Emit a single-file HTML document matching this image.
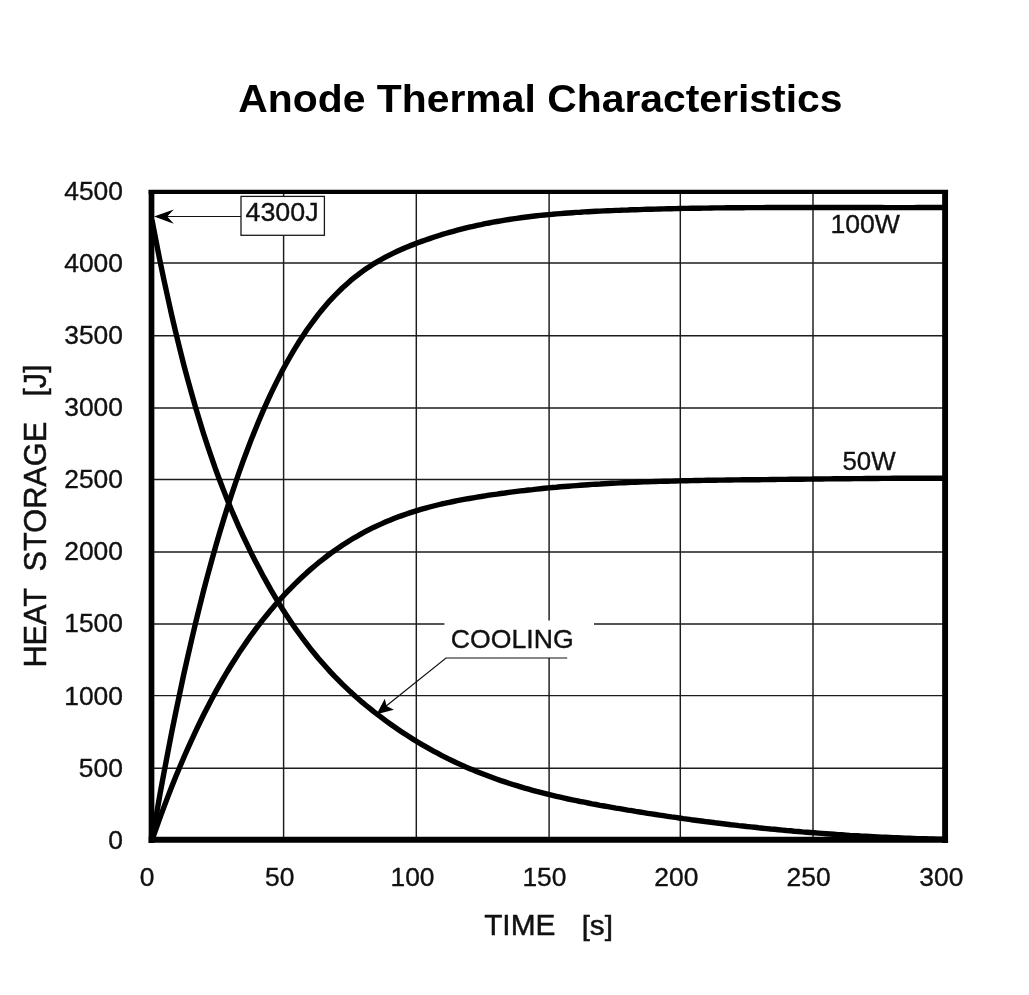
<!DOCTYPE html>
<html><head><meta charset="utf-8"><title>Anode Thermal Characteristics</title>
<style>html,body{margin:0;padding:0;background:#fff}svg{display:block}text{font-family:"Liberation Sans",sans-serif;fill:#111}</style></head><body>
<svg width="1029" height="995" viewBox="0 0 1029 995">
<rect width="1029" height="995" fill="#fff"/>
<path d="M283.6 191.2 V840.2 M416.3 191.2 V840.2 M549.1 191.2 V840.2 M680.3 191.2 V840.2 M813.0 191.2 V840.2 M152.0 768.2 H945.0 M152.0 695.6 H945.0 M152.0 624.0 H945.0 M152.0 551.9 H945.0 M152.0 479.4 H945.0 M152.0 407.9 H945.0 M152.0 335.7 H945.0 M152.0 263.0 H945.0" stroke="#1c1c1c" stroke-width="1.45" fill="none"/>
<rect x="444.4" y="620.5" width="149.6" height="37.5" fill="#fff"/>
<path d="M152.0 840.2 L156.0 817.1 L159.9 794.8 L163.9 773.1 L167.9 752.1 L171.8 731.8 L175.8 712.1 L179.8 693.1 L183.7 674.6 L187.7 656.8 L191.7 639.5 L195.6 622.8 L199.6 606.6 L203.5 591.0 L207.5 575.9 L211.5 561.3 L215.4 547.2 L219.4 533.6 L223.4 520.4 L227.3 507.7 L231.3 495.4 L235.3 483.5 L239.2 472.0 L243.2 460.9 L247.2 450.2 L251.1 439.9 L255.1 429.9 L259.1 420.3 L263.0 411.1 L267.0 402.2 L270.9 393.6 L274.9 385.3 L278.9 377.4 L282.8 369.8 L286.8 362.5 L290.8 355.5 L294.7 348.8 L298.7 342.3 L302.7 336.2 L306.6 330.3 L310.6 324.7 L314.6 319.3 L318.5 314.1 L322.5 309.2 L326.5 304.6 L330.4 300.1 L334.4 295.9 L338.4 291.9 L342.3 288.0 L346.3 284.4 L350.2 280.9 L354.2 277.7 L358.2 274.6 L362.1 271.6 L366.1 268.8 L370.1 266.2 L374.0 263.6 L378.0 261.3 L382.0 259.0 L385.9 256.8 L389.9 254.8 L393.9 252.9 L397.8 251.0 L401.8 249.2 L405.8 247.5 L409.7 245.9 L413.7 244.4 L417.7 242.8 L421.6 241.4 L425.6 240.0 L429.6 238.6 L433.5 237.3 L437.5 236.0 L441.4 234.7 L445.4 233.5 L449.4 232.4 L453.3 231.3 L457.3 230.2 L461.3 229.2 L465.2 228.2 L469.2 227.2 L473.2 226.3 L477.1 225.4 L481.1 224.6 L485.1 223.7 L489.0 223.0 L493.0 222.2 L497.0 221.5 L500.9 220.8 L504.9 220.1 L508.9 219.5 L512.8 218.9 L516.8 218.3 L520.7 217.8 L524.7 217.3 L528.7 216.8 L532.6 216.3 L536.6 215.8 L540.6 215.4 L544.5 215.0 L548.5 214.6 L552.5 214.3 L556.4 213.9 L560.4 213.6 L564.4 213.3 L568.3 213.0 L572.3 212.7 L576.3 212.4 L580.2 212.2 L584.2 211.9 L588.1 211.7 L592.1 211.5 L596.1 211.3 L600.0 211.1 L604.0 210.9 L608.0 210.7 L611.9 210.6 L615.9 210.4 L619.9 210.3 L623.8 210.1 L627.8 210.0 L631.8 209.8 L635.7 209.7 L639.7 209.6 L643.7 209.4 L647.6 209.3 L651.6 209.2 L655.6 209.1 L659.5 209.0 L663.5 208.9 L667.5 208.8 L671.4 208.7 L675.4 208.6 L679.3 208.5 L683.3 208.4 L687.3 208.4 L691.2 208.3 L695.2 208.2 L699.2 208.2 L703.1 208.1 L707.1 208.1 L711.1 208.0 L715.0 207.9 L719.0 207.9 L723.0 207.9 L726.9 207.8 L730.9 207.8 L734.9 207.7 L738.8 207.7 L742.8 207.7 L746.8 207.6 L750.7 207.6 L754.7 207.6 L758.6 207.6 L762.6 207.6 L766.6 207.5 L770.5 207.5 L774.5 207.5 L778.5 207.5 L782.4 207.5 L786.4 207.5 L790.4 207.5 L794.3 207.5 L798.3 207.5 L802.3 207.5 L806.2 207.5 L810.2 207.5 L814.2 207.5 L818.1 207.5 L822.1 207.5 L826.0 207.5 L830.0 207.5 L834.0 207.5 L837.9 207.5 L841.9 207.5 L845.9 207.5 L849.8 207.5 L853.8 207.5 L857.8 207.5 L861.7 207.5 L865.7 207.5 L869.7 207.5 L873.6 207.5 L877.6 207.5 L881.6 207.5 L885.5 207.6 L889.5 207.6 L893.5 207.6 L897.4 207.6 L901.4 207.6 L905.4 207.6 L909.3 207.6 L913.3 207.6 L917.2 207.5 L921.2 207.5 L925.2 207.5 L929.1 207.5 L933.1 207.5 L937.1 207.5 L941.0 207.5 L945.0 207.5" stroke="#000" stroke-width="5.4" fill="none" stroke-linejoin="round"/>
<path d="M152.0 840.2 L156.0 828.8 L159.9 817.8 L163.9 807.1 L167.9 796.6 L171.8 786.5 L175.8 776.6 L179.8 767.0 L183.7 757.7 L187.7 748.6 L191.7 739.8 L195.6 731.3 L199.6 723.0 L203.5 715.0 L207.5 707.2 L211.5 699.6 L215.4 692.2 L219.4 685.1 L223.4 678.2 L227.3 671.5 L231.3 665.0 L235.3 658.7 L239.2 652.6 L243.2 646.7 L247.2 640.9 L251.1 635.3 L255.1 629.9 L259.1 624.7 L263.0 619.6 L267.0 614.7 L270.9 609.9 L274.9 605.3 L278.9 600.8 L282.8 596.5 L286.8 592.2 L290.8 588.1 L294.7 584.1 L298.7 580.3 L302.7 576.5 L306.6 572.9 L310.6 569.4 L314.6 566.0 L318.5 562.7 L322.5 559.6 L326.5 556.5 L330.4 553.5 L334.4 550.7 L338.4 547.9 L342.3 545.3 L346.3 542.7 L350.2 540.2 L354.2 537.8 L358.2 535.6 L362.1 533.3 L366.1 531.2 L370.1 529.2 L374.0 527.2 L378.0 525.4 L382.0 523.6 L385.9 521.8 L389.9 520.2 L393.9 518.6 L397.8 517.1 L401.8 515.6 L405.8 514.2 L409.7 512.9 L413.7 511.6 L417.7 510.4 L421.6 509.2 L425.6 508.1 L429.6 507.0 L433.5 506.0 L437.5 505.0 L441.4 504.0 L445.4 503.2 L449.4 502.3 L453.3 501.5 L457.3 500.7 L461.3 499.9 L465.2 499.2 L469.2 498.5 L473.2 497.8 L477.1 497.1 L481.1 496.5 L485.1 495.8 L489.0 495.2 L493.0 494.6 L497.0 494.1 L500.9 493.5 L504.9 493.0 L508.9 492.4 L512.8 491.9 L516.8 491.4 L520.7 490.9 L524.7 490.5 L528.7 490.0 L532.6 489.6 L536.6 489.1 L540.6 488.7 L544.5 488.3 L548.5 487.9 L552.5 487.5 L556.4 487.2 L560.4 486.8 L564.4 486.5 L568.3 486.2 L572.3 485.9 L576.3 485.6 L580.2 485.3 L584.2 485.0 L588.1 484.7 L592.1 484.4 L596.1 484.2 L600.0 484.0 L604.0 483.7 L608.0 483.5 L611.9 483.3 L615.9 483.1 L619.9 482.9 L623.8 482.7 L627.8 482.5 L631.8 482.4 L635.7 482.2 L639.7 482.0 L643.7 481.9 L647.6 481.8 L651.6 481.6 L655.6 481.5 L659.5 481.4 L663.5 481.3 L667.5 481.2 L671.4 481.1 L675.4 481.0 L679.3 480.9 L683.3 480.8 L687.3 480.7 L691.2 480.6 L695.2 480.5 L699.2 480.5 L703.1 480.4 L707.1 480.3 L711.1 480.3 L715.0 480.2 L719.0 480.1 L723.0 480.1 L726.9 480.0 L730.9 480.0 L734.9 479.9 L738.8 479.9 L742.8 479.8 L746.8 479.8 L750.7 479.8 L754.7 479.7 L758.6 479.7 L762.6 479.6 L766.6 479.6 L770.5 479.5 L774.5 479.5 L778.5 479.4 L782.4 479.4 L786.4 479.4 L790.4 479.3 L794.3 479.3 L798.3 479.2 L802.3 479.2 L806.2 479.1 L810.2 479.1 L814.2 479.0 L818.1 479.0 L822.1 479.0 L826.0 478.9 L830.0 478.9 L834.0 478.8 L837.9 478.8 L841.9 478.8 L845.9 478.7 L849.8 478.7 L853.8 478.6 L857.8 478.6 L861.7 478.6 L865.7 478.5 L869.7 478.5 L873.6 478.5 L877.6 478.5 L881.6 478.4 L885.5 478.4 L889.5 478.4 L893.5 478.3 L897.4 478.3 L901.4 478.3 L905.4 478.3 L909.3 478.3 L913.3 478.2 L917.2 478.2 L921.2 478.2 L925.2 478.2 L929.1 478.2 L933.1 478.2 L937.1 478.2 L941.0 478.2 L945.0 478.2" stroke="#000" stroke-width="5.4" fill="none" stroke-linejoin="round"/>
<path d="M152.0 220.1 L156.0 240.7 L159.9 260.6 L163.9 279.7 L167.9 298.0 L171.8 315.7 L175.8 332.6 L179.8 348.8 L183.7 364.5 L187.7 379.4 L191.7 393.8 L195.6 407.6 L199.6 420.8 L203.5 433.5 L207.5 445.7 L211.5 457.4 L215.4 468.7 L219.4 479.5 L223.4 489.9 L227.3 499.8 L231.3 509.5 L235.3 518.7 L239.2 527.7 L243.2 536.3 L247.2 544.7 L251.1 552.8 L255.1 560.7 L259.1 568.3 L263.0 575.7 L267.0 582.9 L270.9 589.9 L274.9 596.7 L278.9 603.2 L282.8 609.6 L286.8 615.7 L290.8 621.7 L294.7 627.4 L298.7 633.0 L302.7 638.5 L306.6 643.7 L310.6 648.8 L314.6 653.7 L318.5 658.5 L322.5 663.1 L326.5 667.5 L330.4 671.9 L334.4 676.1 L338.4 680.1 L342.3 684.1 L346.3 687.9 L350.2 691.6 L354.2 695.2 L358.2 698.7 L362.1 702.2 L366.1 705.5 L370.1 708.7 L374.0 711.9 L378.0 714.9 L382.0 717.9 L385.9 720.9 L389.9 723.7 L393.9 726.5 L397.8 729.3 L401.8 732.0 L405.8 734.6 L409.7 737.1 L413.7 739.6 L417.7 742.0 L421.6 744.4 L425.6 746.7 L429.6 748.9 L433.5 751.1 L437.5 753.2 L441.4 755.3 L445.4 757.3 L449.4 759.3 L453.3 761.2 L457.3 763.1 L461.3 764.9 L465.2 766.7 L469.2 768.4 L473.2 770.1 L477.1 771.7 L481.1 773.3 L485.1 774.8 L489.0 776.3 L493.0 777.8 L497.0 779.2 L500.9 780.6 L504.9 781.9 L508.9 783.2 L512.8 784.5 L516.8 785.7 L520.7 786.9 L524.7 788.1 L528.7 789.2 L532.6 790.3 L536.6 791.4 L540.6 792.4 L544.5 793.4 L548.5 794.4 L552.5 795.4 L556.4 796.3 L560.4 797.2 L564.4 798.1 L568.3 799.0 L572.3 799.8 L576.3 800.6 L580.2 801.5 L584.2 802.2 L588.1 803.0 L592.1 803.8 L596.1 804.5 L600.0 805.3 L604.0 806.0 L608.0 806.7 L611.9 807.4 L615.9 808.1 L619.9 808.7 L623.8 809.4 L627.8 810.1 L631.8 810.7 L635.7 811.4 L639.7 812.0 L643.7 812.7 L647.6 813.3 L651.6 813.9 L655.6 814.5 L659.5 815.1 L663.5 815.7 L667.5 816.3 L671.4 816.9 L675.4 817.4 L679.3 818.0 L683.3 818.6 L687.3 819.1 L691.2 819.7 L695.2 820.2 L699.2 820.7 L703.1 821.2 L707.1 821.8 L711.1 822.3 L715.0 822.8 L719.0 823.2 L723.0 823.7 L726.9 824.2 L730.9 824.7 L734.9 825.1 L738.8 825.6 L742.8 826.0 L746.8 826.5 L750.7 826.9 L754.7 827.3 L758.6 827.8 L762.6 828.2 L766.6 828.6 L770.5 829.0 L774.5 829.3 L778.5 829.7 L782.4 830.1 L786.4 830.5 L790.4 830.8 L794.3 831.2 L798.3 831.5 L802.3 831.9 L806.2 832.2 L810.2 832.5 L814.2 832.8 L818.1 833.1 L822.1 833.4 L826.0 833.7 L830.0 834.0 L834.0 834.3 L837.9 834.6 L841.9 834.8 L845.9 835.1 L849.8 835.4 L853.8 835.6 L857.8 835.8 L861.7 836.1 L865.7 836.3 L869.7 836.5 L873.6 836.7 L877.6 836.9 L881.6 837.1 L885.5 837.3 L889.5 837.5 L893.5 837.7 L897.4 837.8 L901.4 838.0 L905.4 838.2 L909.3 838.3 L913.3 838.4 L917.2 838.6 L921.2 838.7 L925.2 838.8 L929.1 838.9 L933.1 839.0 L937.1 839.1 L941.0 839.2 L945.0 839.3" stroke="#000" stroke-width="5.4" fill="none" stroke-linejoin="round"/>
<path d="M151.5 189.9 V842.9" stroke="#000" stroke-width="5.7"/>
<path d="M945.1 189.9 V842.9" stroke="#000" stroke-width="5.9"/>
<path d="M148.65 191.9 H948.05" stroke="#000" stroke-width="4.15"/>
<path d="M148.65 839.8 H948.05" stroke="#000" stroke-width="6.1"/>
<rect x="241" y="196.4" width="83.4" height="38.9" fill="#fff" stroke="#1a1a1a" stroke-width="1.3"/>
<path d="M241 216.5 H160" stroke="#111" stroke-width="1.15"/>
<path d="M154 216.5 L173.8 209.4 L167.2 216.5 L173.8 223.8 Z" fill="#000"/>
<path d="M567.2 658 H446 L384 707.7" stroke="#111" stroke-width="1.2" fill="none"/>
<path d="M376.6 714.3 L384.8 698.7 L386.5 705.9 L393.9 709.7 Z" fill="#000"/>
<text transform="translate(238.28 111.90) scale(1.0410 1)" font-size="39.27" font-weight="bold" style="fill:#000">Anode Thermal Characteristics</text>
<text transform="translate(108.24 848.70) scale(1.0560 1)" font-size="25.00" stroke="#111" stroke-width="0.35">0</text>
<text transform="translate(78.87 776.62) scale(1.0560 1)" font-size="25.00" stroke="#111" stroke-width="0.35">500</text>
<text transform="translate(64.22 704.54) scale(1.0560 1)" font-size="25.00" stroke="#111" stroke-width="0.35">1000</text>
<text transform="translate(64.22 632.46) scale(1.0560 1)" font-size="25.00" stroke="#111" stroke-width="0.35">1500</text>
<text transform="translate(64.22 560.38) scale(1.0560 1)" font-size="25.00" stroke="#111" stroke-width="0.35">2000</text>
<text transform="translate(64.22 488.30) scale(1.0560 1)" font-size="25.00" stroke="#111" stroke-width="0.35">2500</text>
<text transform="translate(64.22 416.22) scale(1.0560 1)" font-size="25.00" stroke="#111" stroke-width="0.35">3000</text>
<text transform="translate(64.22 344.14) scale(1.0560 1)" font-size="25.00" stroke="#111" stroke-width="0.35">3500</text>
<text transform="translate(64.22 272.06) scale(1.0560 1)" font-size="25.00" stroke="#111" stroke-width="0.35">4000</text>
<text transform="translate(64.22 199.98) scale(1.0560 1)" font-size="25.00" stroke="#111" stroke-width="0.35">4500</text>
<text transform="translate(139.74 886.40) scale(1.0560 1)" font-size="25.00" stroke="#111" stroke-width="0.35">0</text>
<text transform="translate(265.12 886.40) scale(1.0560 1)" font-size="25.00" stroke="#111" stroke-width="0.35">50</text>
<text transform="translate(390.49 886.40) scale(1.0560 1)" font-size="25.00" stroke="#111" stroke-width="0.35">100</text>
<text transform="translate(522.39 886.40) scale(1.0560 1)" font-size="25.00" stroke="#111" stroke-width="0.35">150</text>
<text transform="translate(654.32 886.40) scale(1.0560 1)" font-size="25.00" stroke="#111" stroke-width="0.35">200</text>
<text transform="translate(786.62 886.40) scale(1.0560 1)" font-size="25.00" stroke="#111" stroke-width="0.35">250</text>
<text transform="translate(919.29 886.40) scale(1.0560 1)" font-size="25.00" stroke="#111" stroke-width="0.35">300</text>
<text transform="translate(830.40 233.00) scale(1.0478 1)" font-size="25.40" stroke="#111" stroke-width="0.35">100W</text>
<text transform="translate(842.47 470.30) scale(1.0173 1)" font-size="25.40" stroke="#111" stroke-width="0.35">50W</text>
<text transform="translate(245.50 221.40) scale(1.0647 1)" font-size="25.20" stroke="#111" stroke-width="0.35">4300J</text>
<text transform="translate(450.87 647.80) scale(1.0484 1)" font-size="25.40" stroke="#111" stroke-width="0.35">COOLING</text>
<text transform="translate(484.13 935.30) scale(0.9819 1)" font-size="30.40" stroke="#111" stroke-width="0.50">TIME</text>
<text transform="translate(581.65 934.98) scale(1.0373 1)" font-size="28.53" stroke="#111" stroke-width="0.50">[s]</text>
<g transform="translate(45.8 667.6) rotate(-90) scale(0.998 1)"><text font-size="30.8" stroke="#111" stroke-width="0.5" style="white-space:pre" xml:space="preserve">HEAT  STORAGE   <tspan font-size="28.8" dy="-0.9">[</tspan><tspan dy="0.9">J</tspan><tspan font-size="28.8" dy="-0.9">]</tspan></text></g>
</svg></body></html>
